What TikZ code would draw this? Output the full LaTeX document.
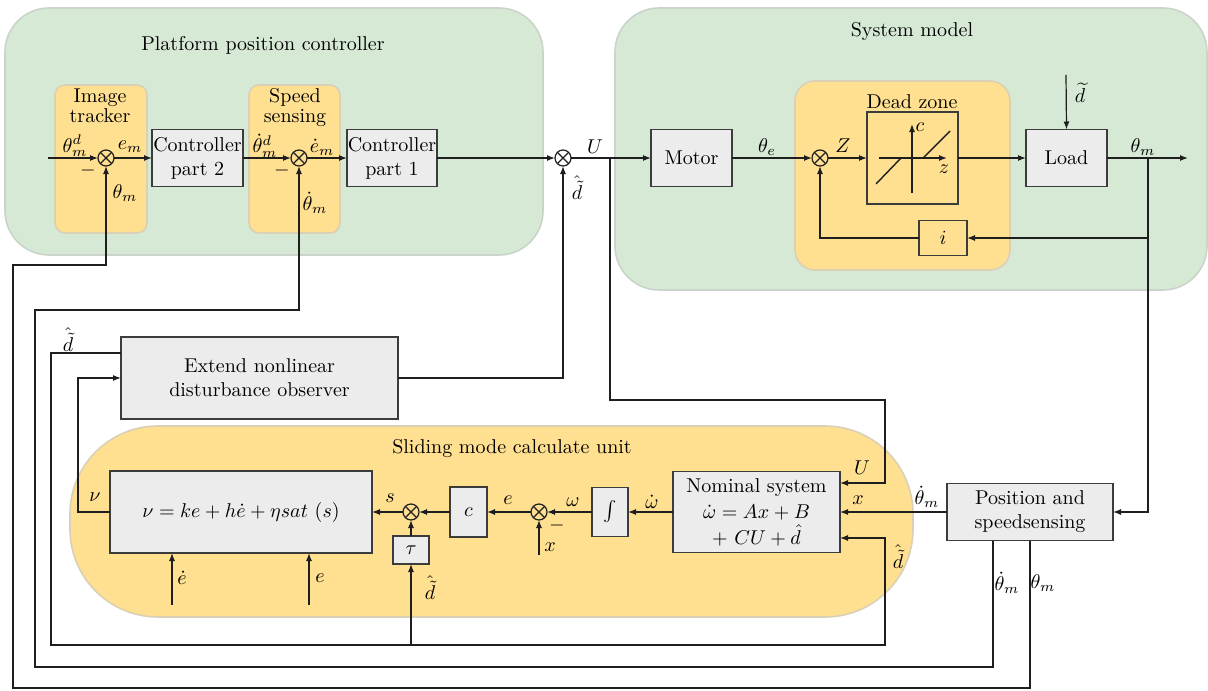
\documentclass[tikz,border=0pt]{standalone}
\usepackage{tikz}
\usepackage{xcolor}
\usetikzlibrary{positioning,arrows.meta}

\begin{document}
\begin{tikzpicture}[x=0.5pt,y=-0.5pt,
  every node/.style={inner sep=0pt,outer sep=0pt},
  wire/.style={draw=lineColor,line width=0.6pt},
  arr/.style={wire,-{Latex[length=4pt,width=3pt]}},
  blk/.style={draw=boxColor,fill=boxFill,line width=0.8pt,align=center},
  region/.style={line width=0.8pt},
  sumnode/.style={circle,draw=lineColor,line width=0.6pt,minimum size=8pt,
    path picture={\draw[lineColor,line width=0.6pt]
      (path picture bounding box.north west) -- (path picture bounding box.south east)
      (path picture bounding box.north east) -- (path picture bounding box.south west);}}]
\definecolor{greenFill}{RGB}{214,233,213}
\definecolor{greenLine}{RGB}{202,212,202}
\definecolor{orangeFill}{RGB}{255,224,145}
\definecolor{orangeLine}{RGB}{218,208,182}
\definecolor{boxFill}{RGB}{236,236,236}
\definecolor{boxColor}{RGB}{60,60,60}
\definecolor{lineColor}{RGB}{30,30,30}
\path[use as bounding box,fill=white] (0,0) rectangle (1208,690);

% shaded groups
\path[region,draw=greenLine,fill=greenFill,rounded corners=22pt] (5,8) rectangle (543,255);
\path[region,draw=greenLine,fill=greenFill,rounded corners=22pt] (615,8) rectangle (1207,290);
\path[region,draw=orangeLine,fill=orangeFill,rounded corners=5pt] (55,85) rectangle (147,233);
\path[region,draw=orangeLine,fill=orangeFill,rounded corners=5pt] (249,85) rectangle (340,233);
\path[region,draw=orangeLine,fill=orangeFill,rounded corners=10pt] (795,81) rectangle (1010,270);
\path[region,draw=orangeLine,fill=orangeFill,rounded corners=44pt] (70,426) rectangle (913,617);

\node (tPlat) at (263,45) {Platform position controller};
\node (tSys) at (912,32) {System model};
\node[align=center] (tImg) at (100,106) {Image\\[-2pt]tracker};
\node[align=center] (tSpd) at (295,108) {Speed\\[-2pt]sensing};
\node (tDz) at (912,102) {Dead zone};
\node (tSmc) at (512,449) {Sliding mode calculate unit};

% blocks
\node[blk,minimum width=45.5pt,minimum height=28.5pt] (ctrlB) at (197.5,158) {Controller\\part 2};
\node[blk,minimum width=45pt,minimum height=28.5pt] (ctrlA) at (392,158) {Controller\\part 1};
\node[blk,minimum width=40.5pt,minimum height=28.5pt] (motor) at (691.5,158) {Motor};
\node[blk,fill=none,minimum width=45.5pt,minimum height=46pt] (dz) at (912.5,158) {};
\node[blk,minimum width=40.5pt,minimum height=28.5pt] (load) at (1066.5,158) {Load};
\node[blk,fill=none,minimum width=24pt,minimum height=17.5pt] (ibox) at (943,238) {$i$};
\node[blk,minimum width=138.5pt,minimum height=41pt] (edo) at (259.5,378) {Extend nonlinear\\disturbance observer};
\node[blk,minimum width=131pt,minimum height=41pt] (nu) at (241,512) {$\nu = ke + h\dot{e} + \eta sat\ (s)$};
\node[blk,minimum width=18pt,minimum height=14pt] (tau) at (411,550) {$\tau$};
\node[blk,minimum width=18.5pt,minimum height=25pt] (cbox) at (468.5,512) {$c$};
\node[blk,minimum width=18pt,minimum height=24.5pt] (intg) at (610,512) {$\int$};
\node[blk,minimum width=83.5pt,minimum height=40.5pt] (nom) at (756.5,512) {Nominal system\\[1pt]$\dot{\omega} = Ax + B$\\[1pt]$+\ CU + \hat{d}$};
\node[blk,minimum width=83pt,minimum height=28.5pt] (pos) at (1030,512) {Position and\\speedsensing};

% summing junctions
\node[sumnode] (s1) at (106,158) {};
\node[sumnode] (s2) at (299,158) {};
\node[sumnode] (s3) at (563,158) {};
\node[sumnode] (s4) at (820,158) {};
\node[sumnode] (s5) at (411,512) {};
\node[sumnode] (s6) at (539,512) {};

% dead zone characteristic
\draw[arr,line width=0.7pt] (912,193) -- (912,124);
\draw[arr,line width=0.7pt] (879,158) -- (947,158);
\draw[wire,line width=0.7pt] (876,184) -- (901,158);
\draw[wire,line width=0.7pt] (923,158) -- (950,131);
\node (lc) at (920,127) {$c$};
\node (lz) at (944,169) {$z$};

% turning points and free ends
\coordinate (in) at (48,158);
\coordinate (out) at (1188,158);
\coordinate (dist) at (1066,75);
\coordinate (uBr) at (610,158);
\coordinate (uCorner) at (885,400);
\coordinate (nomU) at (840,483);
\coordinate (nomD) at (840,538);
\coordinate (thBr) at (1148,158);
\coordinate (edoOut) at (121,353);
\coordinate (dhatCorner) at (51,645);
\coordinate (dhatBot) at (885,645);
\coordinate (nuCorner) at (78,378);
\coordinate (xin) at (539,555);
\coordinate (edotIn) at (172,605);
\coordinate (eIn) at (309,605);
\coordinate (fbAbot) at (993,667);
\coordinate (fbAcorner) at (35,310);
\coordinate (fbBbot) at (1030,688);
\coordinate (fbBcorner) at (13,265);

% forward path
\draw[arr] (in) -- (s1);
\draw[arr] (s1) -- (ctrlB);
\draw[arr] (ctrlB) -- (s2);
\draw[arr] (s2) -- (ctrlA);
\draw[arr] (ctrlA) -- (s3);
\draw[arr] (s3) -- (motor);
\draw[arr] (motor) -- (s4);
\draw[arr] (s4) -- (dz);
\draw[arr] (dz) -- (load);
\draw[arr] (load) -- (out);
\draw[arr] (dist) -- (load.north);
\draw[arr] (thBr) |- (ibox.east);
\draw[arr] (ibox.west) -| (s4.south);
\draw[arr] (thBr) |- (pos.east);

% observer and sliding mode unit
\draw[arr] (uBr) |- (uCorner) |- (nomU);
\draw[arr] (pos) -- (nom);
\draw[arr] (edoOut) -| (dhatCorner) -- (dhatBot) |- (nomD);
\draw[arr] (tau.south |- dhatBot) -- (tau.south);
\draw[arr] (edo.east) -| (s3.south);
\draw[arr] (nu.west) -| (nuCorner) -- (edo.west);
\draw[arr] (nom) -- (intg);
\draw[arr] (intg) -- (s6);
\draw[arr] (s6) -- (cbox);
\draw[arr] (cbox) -- (s5);
\draw[arr] (s5) -- (nu);
\draw[arr] (tau) -- (s5);
\draw[arr] (xin) -- (s6);
\draw[arr] (edotIn) -- (edotIn |- nu.south);
\draw[arr] (eIn) -- (eIn |- nu.south);

% sensor feedback
\draw[arr] (pos.south -| fbAbot) -- (fbAbot) -| (fbAcorner) -| (s2.south);
\draw[arr] (pos.south) -- (fbBbot) -| (fbBcorner) -| (s1.south);

% signal labels
\node (l1) at (75,146) {$\theta_m^d$};
\node (l2) at (130,147) {$e_m$};
\node (l3) at (88,170) {$-$};
\node (l4) at (125,193) {$\theta_m$};
\node (l5) at (265,146) {$\dot{\theta}_m^d$};
\node (l6) at (322,147) {$\dot{e}_m$};
\node (l7) at (282,170) {$-$};
\node (l8) at (315,203) {$\dot{\theta}_m$};
\node (l9) at (595,147) {$U$};
\node (l10) at (577,188) {$\hat{\tilde{d}}$};
\node (l11) at (767,147) {$\theta_e$};
\node (l12) at (843,146) {$Z$};
\node (l13) at (1080,93) {$\widetilde{d}$};
\node (l14) at (1143,147) {$\theta_m$};
\node (l15) at (68,340) {$\hat{\tilde{d}}$};
\node (l16) at (95,497) {$\nu$};
\node (l17) at (390,498) {$s$};
\node (l18) at (508,500) {$e$};
\node (l19) at (557,525) {$-$};
\node (l20) at (550,547) {$x$};
\node (l21) at (573,502) {$\omega$};
\node (l22) at (652,502) {$\dot{\omega}$};
\node (l23) at (862,468) {$U$};
\node (l24) at (858,500) {$x$};
\node (l25) at (898,557) {$\hat{\tilde{d}}$};
\node (l26) at (927,497) {$\dot{\theta}_m$};
\node (l27) at (182,578) {$\dot{e}$};
\node (l28) at (320,578) {$e$};
\node (l29) at (430,588) {$\hat{\tilde{d}}$};
\node (l30) at (1007,583) {$\dot{\theta}_m$};
\node (l31) at (1043,583) {$\theta_m$};
\end{tikzpicture}
\end{document}
